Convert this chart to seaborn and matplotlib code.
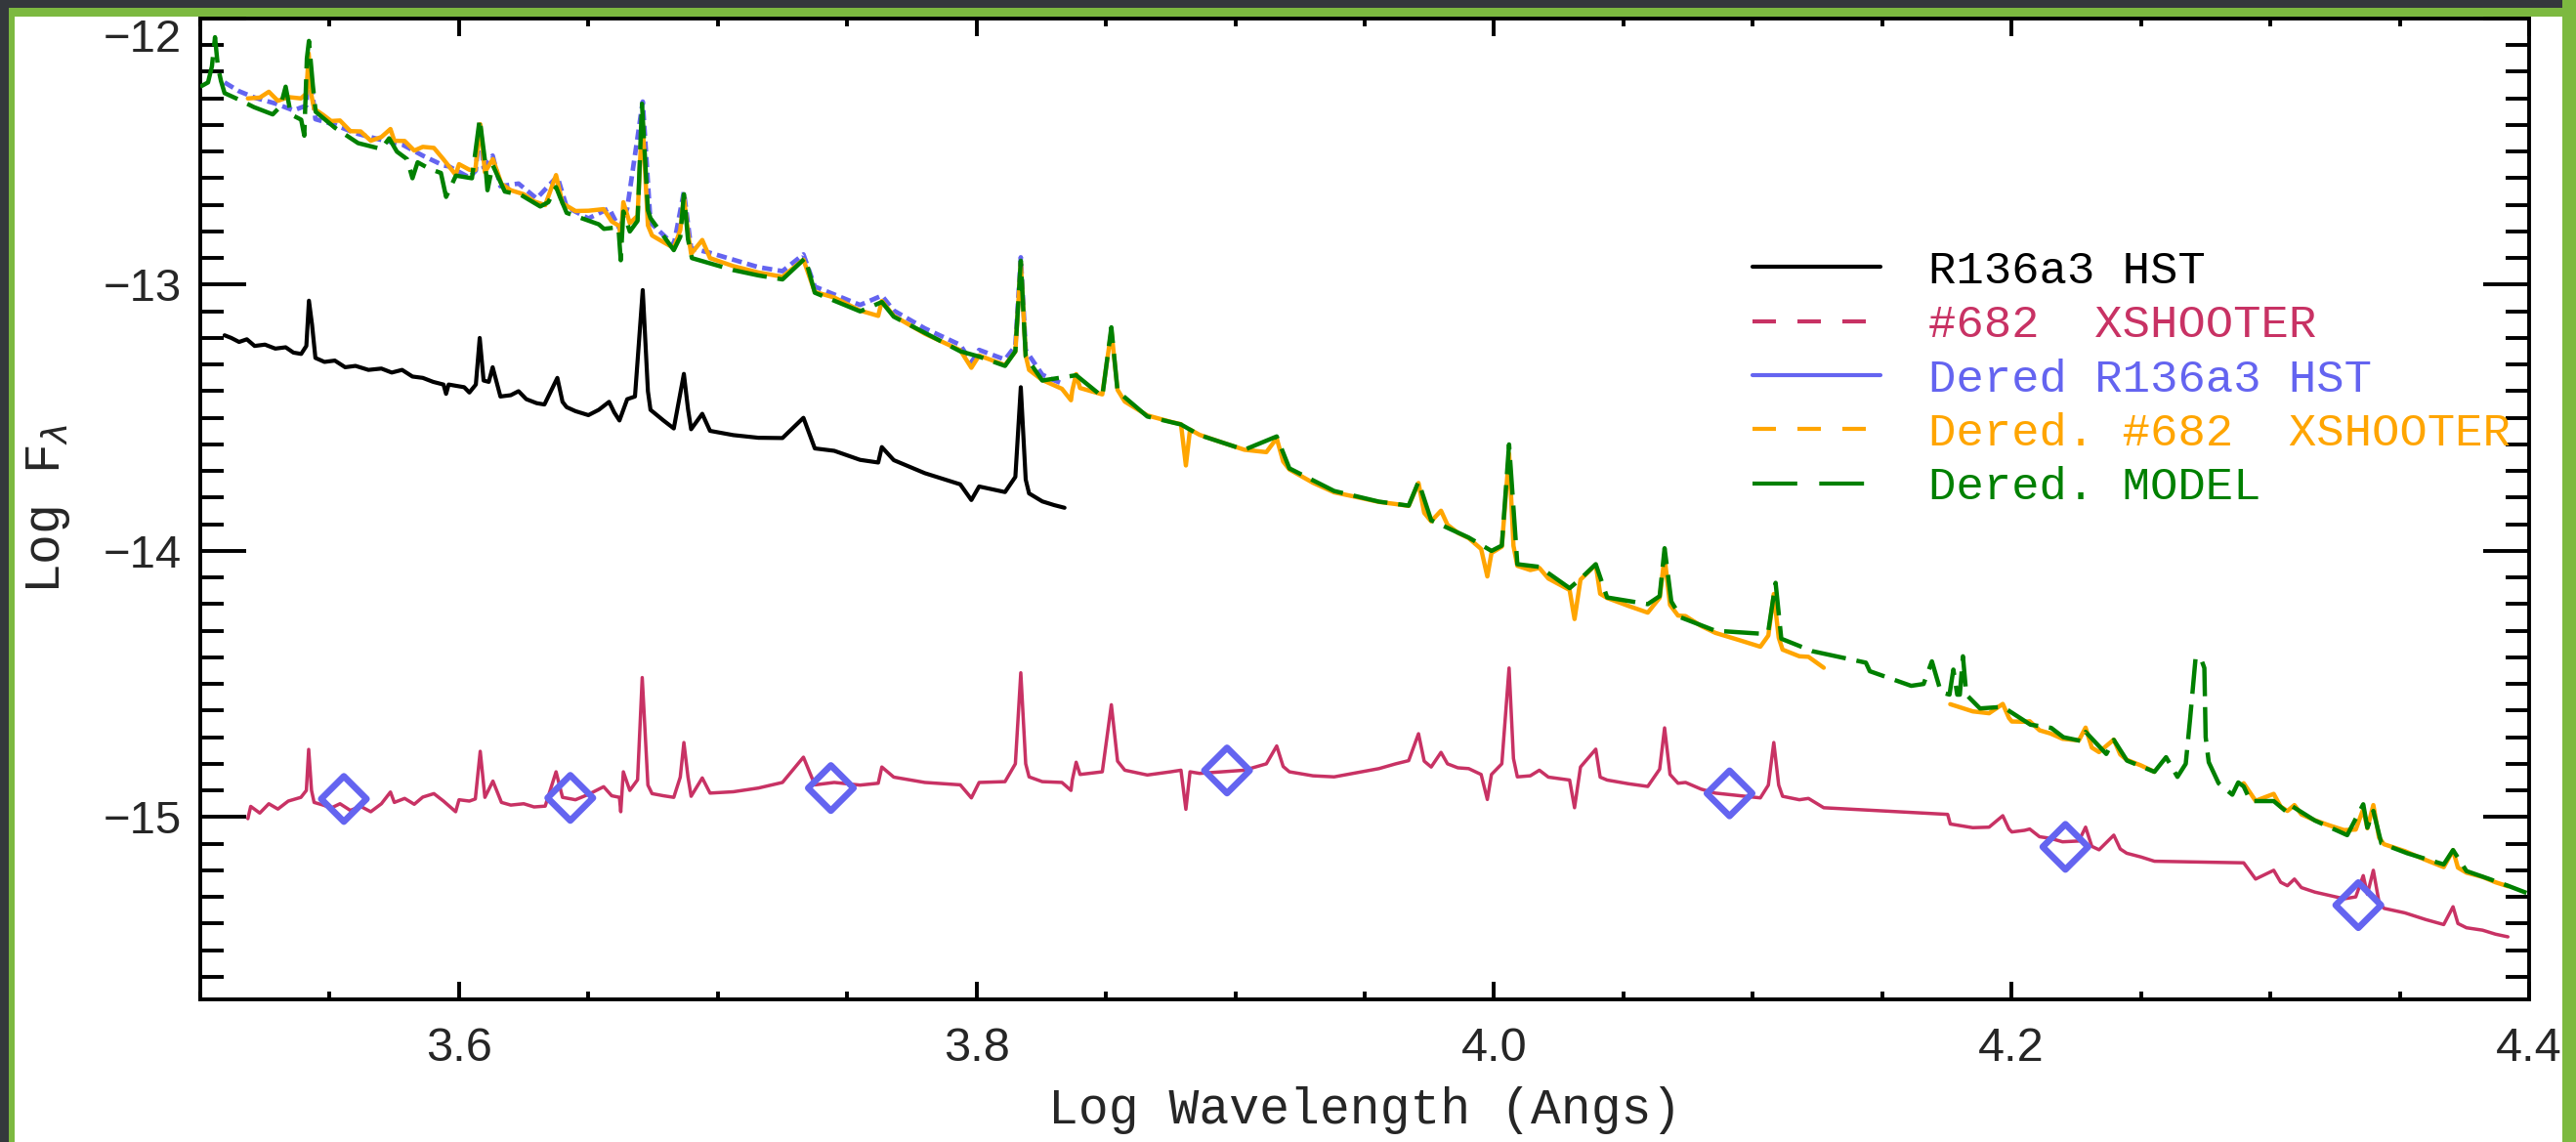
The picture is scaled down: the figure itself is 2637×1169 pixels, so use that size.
import numpy as np
import pandas as pd
import matplotlib
matplotlib.use("Agg")
import matplotlib.pyplot as plt
import seaborn as sns
from matplotlib.lines import Line2D
from matplotlib.patches import Rectangle
from matplotlib.ticker import MultipleLocator
from matplotlib.font_manager import FontProperties

# ---------------- data (log wavelength, log flux) ----------------
xsh_x = [3.5184, 3.5195, 3.5230, 3.5265, 3.5300, 3.5340, 3.5389, 3.5410, 3.5419, 3.5430,
         3.5440, 3.5475, 3.5506, 3.5540, 3.5580, 3.5620, 3.5659, 3.5700, 3.5735, 3.5750,
         3.5790, 3.5827, 3.5860, 3.5903, 3.5940, 3.5987, 3.6000, 3.6040, 3.6063, 3.6082,
         3.6100, 3.6131, 3.6164, 3.6200, 3.6250, 3.6290, 3.6333, 3.6375, 3.6400, 3.6450,
         3.6500, 3.6559, 3.6590, 3.6620, 3.6625, 3.6635, 3.6660, 3.6690, 3.6708, 3.6730,
         3.6746, 3.6790, 3.6830, 3.6855, 3.6869, 3.6885, 3.6897, 3.6940, 3.6970, 3.7060,
         3.7157, 3.7250, 3.7331, 3.7375, 3.7450, 3.7550, 3.7620, 3.7634, 3.7680, 3.7800,
         3.7937, 3.7980, 3.8010, 3.8110, 3.8150, 3.8171, 3.8190, 3.8203, 3.8254, 3.8330,
         3.8365, 3.8370, 3.8385, 3.8400, 3.8486, 3.8521, 3.8545, 3.8573, 3.8660, 3.8750,
         3.8790, 3.8809, 3.8825, 3.8862, 3.8950, 3.9035, 3.9120, 3.9160, 3.9185, 3.9209,
         3.9300, 3.9382, 3.9460, 3.9555, 3.9620, 3.9670, 3.9708, 3.9730, 3.9757, 3.9795,
         3.9820, 3.9860, 3.9902, 3.9950, 3.9974, 3.9990, 4.0030, 4.0058, 4.0075, 4.0090,
         4.0140, 4.0175, 4.0210, 4.0292, 4.0311, 4.0334, 4.0393, 4.0410, 4.0437, 4.0520,
         4.0594, 4.0640, 4.0659, 4.0680, 4.0711, 4.0740, 4.0800, 4.0855, 4.0950, 4.1029,
         4.1060, 4.1081, 4.1100, 4.1115, 4.1180, 4.1215, 4.1274, 4.1753, 4.1763, 4.1850,
         4.1913, 4.1966, 4.1990, 4.2001, 4.2050, 4.2070, 4.2108, 4.2150, 4.2197, 4.2260,
         4.2286, 4.2310, 4.2338, 4.2395, 4.2420, 4.2445, 4.2500, 4.2552, 4.2897, 4.2943,
         4.3013, 4.3040, 4.3066, 4.3093, 4.3120, 4.3172, 4.3230, 4.3285, 4.3330, 4.3359,
         4.3375, 4.3398, 4.3420, 4.3439, 4.3520, 4.3600, 4.3670, 4.3706, 4.3725, 4.3758,
         4.3820, 4.3870, 4.3918]
xsh_y = [-15.006, -14.960, -14.985, -14.950, -14.970, -14.940, -14.926, -14.900, -14.746, -14.900,
         -14.945, -14.955, -14.966, -14.950, -14.975, -14.960, -14.980, -14.950, -14.906, -14.945,
         -14.930, -14.952, -14.925, -14.912, -14.940, -14.980, -14.935, -14.940, -14.932, -14.753,
         -14.926, -14.865, -14.945, -14.955, -14.950, -14.962, -14.959, -14.830, -14.926, -14.935,
         -14.915, -14.886, -14.920, -14.926, -14.980, -14.830, -14.900, -14.860, -14.476, -14.880,
         -14.912, -14.920, -14.926, -14.850, -14.720, -14.850, -14.922, -14.853, -14.910, -14.905,
         -14.891, -14.870, -14.775, -14.879, -14.870, -14.880, -14.873, -14.812, -14.850, -14.870,
         -14.879, -14.928, -14.870, -14.867, -14.800, -14.458, -14.800, -14.849, -14.867, -14.870,
         -14.900, -14.861, -14.794, -14.840, -14.830, -14.578, -14.790, -14.824, -14.842, -14.830,
         -14.824, -14.971, -14.830, -14.836, -14.830, -14.824, -14.800, -14.733, -14.810, -14.830,
         -14.845, -14.849, -14.835, -14.818, -14.800, -14.788, -14.687, -14.790, -14.812, -14.757,
         -14.800, -14.815, -14.818, -14.840, -14.934, -14.840, -14.800, -14.440, -14.780, -14.849,
         -14.845, -14.824, -14.850, -14.861, -14.965, -14.812, -14.745, -14.850, -14.861, -14.875,
         -14.885, -14.820, -14.665, -14.840, -14.873, -14.870, -14.895, -14.910, -14.920, -14.928,
         -14.880, -14.720, -14.880, -14.922, -14.935, -14.930, -14.965, -14.990, -15.026, -15.040,
         -15.038, -14.995, -15.045, -15.056, -15.050, -15.045, -15.074, -15.080, -15.093, -15.090,
         -15.038, -15.110, -15.123, -15.068, -15.120, -15.136, -15.150, -15.166, -15.172, -15.233,
         -15.200, -15.245, -15.258, -15.233, -15.265, -15.282, -15.295, -15.307, -15.300, -15.220,
         -15.290, -15.200, -15.320, -15.343, -15.360, -15.385, -15.404, -15.337, -15.400, -15.416,
         -15.425, -15.440, -15.450]

hst_x = [3.5094, 3.5120, 3.5150, 3.5180, 3.5210, 3.5250, 3.5290, 3.5330, 3.5360, 3.5390,
         3.5410, 3.5420, 3.5432, 3.5445, 3.5480, 3.5520, 3.5560, 3.5600, 3.5650, 3.5700,
         3.5740, 3.5780, 3.5820, 3.5860, 3.5900, 3.5940, 3.5950, 3.5960, 3.6020, 3.6040,
         3.6065, 3.6080, 3.6095, 3.6115, 3.6130, 3.6160, 3.6200, 3.6230, 3.6260, 3.6300,
         3.6330, 3.6380, 3.6400, 3.6416, 3.6450, 3.6500, 3.6540, 3.6580, 3.6600, 3.6620,
         3.6650, 3.6680, 3.6710, 3.6730, 3.6740, 3.6790, 3.6830, 3.6869, 3.6885, 3.6897,
         3.6940, 3.6970, 3.7060, 3.7157, 3.7250, 3.7331, 3.7375, 3.7450, 3.7550, 3.7620,
         3.7634, 3.7680, 3.7800, 3.7937, 3.7980, 3.8010, 3.8110, 3.8150, 3.8171, 3.8190,
         3.8203, 3.8254, 3.8300, 3.8340]
hst_y = [-13.190, -13.200, -13.215, -13.205, -13.230, -13.225, -13.240, -13.235, -13.255, -13.260,
         -13.230, -13.060, -13.150, -13.275, -13.290, -13.285, -13.310, -13.305, -13.320, -13.315,
         -13.330, -13.320, -13.345, -13.350, -13.365, -13.375, -13.410, -13.375, -13.385, -13.405,
         -13.375, -13.200, -13.360, -13.365, -13.310, -13.420, -13.415, -13.400, -13.430, -13.445,
         -13.450, -13.350, -13.440, -13.460, -13.475, -13.490, -13.470, -13.440, -13.480, -13.510,
         -13.430, -13.420, -13.020, -13.400, -13.470, -13.510, -13.540, -13.335, -13.468, -13.543,
         -13.485, -13.549, -13.565, -13.575, -13.576, -13.500, -13.615, -13.624, -13.658, -13.668,
         -13.610, -13.659, -13.708, -13.750, -13.809, -13.758, -13.779, -13.722, -13.385, -13.732,
         -13.784, -13.814, -13.828, -13.838]

dhst_x = [3.5094, 3.5150, 3.5210, 3.5290, 3.5360, 3.5410, 3.5420, 3.5445, 3.5520, 3.5600,
          3.5700, 3.5780, 3.5860, 3.5940, 3.5960, 3.6040, 3.6065, 3.6080, 3.6095, 3.6130,
          3.6160, 3.6230, 3.6300, 3.6380, 3.6416, 3.6500, 3.6580, 3.6620, 3.6650, 3.6710,
          3.6740, 3.6830, 3.6869, 3.6897, 3.6970, 3.7157, 3.7250, 3.7331, 3.7375, 3.7550,
          3.7634, 3.7680, 3.7800, 3.7937, 3.7980, 3.8010, 3.8110, 3.8150, 3.8171, 3.8190,
          3.8254, 3.8300, 3.8340]
dhst_y = [-12.240, -12.273, -12.297, -12.319, -12.345, -12.327, -12.159, -12.378, -12.399, -12.431,
          -12.456, -12.473, -12.515, -12.552, -12.555, -12.597, -12.571, -12.398, -12.560, -12.515,
          -12.630, -12.620, -12.676, -12.593, -12.708, -12.751, -12.713, -12.789, -12.713, -12.312,
          -12.767, -12.850, -12.651, -12.863, -12.880, -12.934, -12.949, -12.886, -13.007, -13.076,
          -13.041, -13.097, -13.164, -13.226, -13.292, -13.245, -13.281, -13.230, -12.897, -13.246,
          -13.338, -13.359, -13.375]

dxsh_x1 = [3.5184, 3.5230, 3.5265, 3.5300, 3.5340, 3.5389, 3.5410, 3.5419, 3.5430, 3.5440,
           3.5475, 3.5506, 3.5540, 3.5580, 3.5620, 3.5659, 3.5700, 3.5735, 3.5750, 3.5790,
           3.5827, 3.5860, 3.5903, 3.5940, 3.5987, 3.6000, 3.6040, 3.6063, 3.6082, 3.6100,
           3.6131, 3.6164, 3.6200, 3.6250, 3.6290, 3.6333, 3.6375, 3.6400, 3.6450, 3.6500,
           3.6559, 3.6590, 3.6620, 3.6625, 3.6635, 3.6660, 3.6690, 3.6708, 3.6730, 3.6746,
           3.6790, 3.6830, 3.6855, 3.6869, 3.6885, 3.6897, 3.6940, 3.6970, 3.7060, 3.7157,
           3.7250, 3.7331, 3.7375, 3.7450, 3.7550, 3.7620, 3.7634, 3.7680, 3.7800, 3.7937,
           3.7980, 3.8010, 3.8110, 3.8150, 3.8171, 3.8190, 3.8203, 3.8254, 3.8330, 3.8365,
           3.8370, 3.8385, 3.8400, 3.8486, 3.8521, 3.8545, 3.8573, 3.8660, 3.8750, 3.8790,
           3.8809, 3.8825, 3.8862, 3.8950, 3.9035, 3.9120, 3.9160, 3.9185, 3.9209, 3.9300,
           3.9382, 3.9460, 3.9555, 3.9620, 3.9670, 3.9708, 3.9730, 3.9757, 3.9795, 3.9820,
           3.9860, 3.9902, 3.9950, 3.9974, 3.9990, 4.0030, 4.0058, 4.0075, 4.0090, 4.0140,
           4.0175, 4.0210, 4.0292, 4.0311, 4.0334, 4.0393, 4.0410, 4.0437, 4.0520, 4.0594,
           4.0640, 4.0659, 4.0680, 4.0711, 4.0740, 4.0800, 4.0855, 4.0950, 4.1029, 4.1060,
           4.1081, 4.1100, 4.1115, 4.1180, 4.1215, 4.1274]
dxsh_y1 = [-12.300, -12.297, -12.275, -12.309, -12.295, -12.300, -12.282, -12.131, -12.290, -12.339,
           -12.362, -12.385, -12.383, -12.423, -12.424, -12.459, -12.445, -12.415, -12.459, -12.460,
           -12.496, -12.482, -12.486, -12.529, -12.587, -12.547, -12.568, -12.569, -12.397, -12.577,
           -12.528, -12.621, -12.645, -12.660, -12.687, -12.701, -12.588, -12.694, -12.723, -12.722,
           -12.716, -12.762, -12.780, -12.836, -12.690, -12.769, -12.741, -12.364, -12.777, -12.815,
           -12.840, -12.862, -12.795, -12.671, -12.807, -12.884, -12.832, -12.900, -12.930, -12.954,
           -12.970, -12.906, -13.027, -13.048, -13.097, -13.117, -13.061, -13.117, -13.184, -13.246,
           -13.312, -13.266, -13.302, -13.251, -12.917, -13.266, -13.320, -13.358, -13.391, -13.434,
           -13.397, -13.336, -13.388, -13.412, -13.173, -13.395, -13.439, -13.491, -13.515, -13.524,
           -13.679, -13.544, -13.564, -13.593, -13.620, -13.629, -13.577, -13.664, -13.694, -13.744,
           -13.780, -13.796, -13.816, -13.824, -13.831, -13.745, -13.857, -13.889, -13.849, -13.902,
           -13.932, -13.952, -13.993, -14.096, -14.008, -13.984, -13.635, -13.981, -14.056, -14.072,
           -14.064, -14.104, -14.147, -14.256, -14.108, -14.052, -14.161, -14.177, -14.207, -14.232,
           -14.176, -14.024, -14.203, -14.243, -14.245, -14.282, -14.308, -14.336, -14.360, -14.318,
           -14.162, -14.326, -14.371, -14.396, -14.398, -14.439]
dxsh_x2 = [4.1763, 4.1850, 4.1913, 4.1966, 4.1990, 4.2001, 4.2050, 4.2070, 4.2108, 4.2150,
           4.2197, 4.2260, 4.2286, 4.2310, 4.2338, 4.2395, 4.2420, 4.2445, 4.2500, 4.2552]
dxsh_y2 = [-14.576, -14.603, -14.610, -14.575, -14.628, -14.641, -14.642, -14.640, -14.674, -14.686,
           -14.706, -14.712, -14.664, -14.739, -14.756, -14.709, -14.765, -14.785, -14.806, -14.830]
dxsh_x3 = [4.2897, 4.2943, 4.3013, 4.3040, 4.3066, 4.3093, 4.3120, 4.3172, 4.3230, 4.3285,
           4.3330, 4.3359, 4.3375, 4.3398, 4.3420, 4.3439, 4.3520, 4.3600, 4.3670, 4.3706,
           4.3725, 4.3758, 4.3820, 4.3870, 4.3918]
dxsh_y3 = [-14.873, -14.939, -14.913, -14.961, -14.977, -14.955, -14.990, -15.012, -15.032, -15.049,
           -15.047, -14.970, -15.042, -14.955, -15.077, -15.102, -15.128, -15.161, -15.188, -15.125,
           -15.190, -15.209, -15.225, -15.245, -15.260]

model_x = [3.5000, 3.5030, 3.5045, 3.5057, 3.5068, 3.5080, 3.5094, 3.5150, 3.5208, 3.5280,
           3.5310, 3.5330, 3.5350, 3.5390, 3.5402, 3.5412, 3.5420, 3.5435, 3.5446, 3.5520,
           3.5610, 3.5700, 3.5730, 3.5760, 3.5799, 3.5820, 3.5840, 3.5887, 3.5930, 3.5950,
           3.5988, 3.6050, 3.6080, 3.6101, 3.6110, 3.6130, 3.6177, 3.6240, 3.6314, 3.6345,
           3.6375, 3.6390, 3.6416, 3.6540, 3.6560, 3.6616, 3.6625, 3.6635, 3.6660, 3.6690,
           3.6707, 3.6730, 3.6740, 3.6830, 3.6855, 3.6869, 3.6885, 3.6900, 3.7060, 3.7157,
           3.7250, 3.7338, 3.7375, 3.7550, 3.7634, 3.7680, 3.7937, 3.8010, 3.8110, 3.8150,
           3.8171, 3.8190, 3.8254, 3.8385, 3.8486, 3.8521, 3.8545, 3.8660, 3.8790, 3.8862,
           3.9035, 3.9160, 3.9209, 3.9382, 3.9555, 3.9670, 3.9708, 3.9757, 3.9902, 3.9990,
           4.0030, 4.0058, 4.0090, 4.0175, 4.0292, 4.0334, 4.0393, 4.0437, 4.0594, 4.0640,
           4.0659, 4.0685, 4.0722, 4.0855, 4.1029, 4.1060, 4.1088, 4.1110, 4.1231, 4.1437,
           4.1452, 4.1612, 4.1660, 4.1692, 4.1727, 4.1760, 4.1775, 4.1790, 4.1800, 4.1812,
           4.1825, 4.1878, 4.1966, 4.2073, 4.2153, 4.2200, 4.2268, 4.2286, 4.2366, 4.2395,
           4.2446, 4.2552, 4.2597, 4.2641, 4.2673, 4.2690, 4.2711, 4.2730, 4.2745, 4.2750,
           4.2762, 4.2800, 4.2853, 4.2876, 4.2897, 4.2923, 4.3013, 4.3066, 4.3085, 4.3172,
           4.3297, 4.3359, 4.3375, 4.3398, 4.3429, 4.3529, 4.3670, 4.3706, 4.3758, 4.3847,
           4.3918, 4.3990]
model_y = [-12.256, -12.240, -12.180, -12.070, -12.180, -12.234, -12.280, -12.305, -12.333, -12.360,
           -12.330, -12.256, -12.360, -12.380, -12.440, -12.150, -12.084, -12.250, -12.350, -12.410,
           -12.468, -12.490, -12.450, -12.500, -12.528, -12.600, -12.540, -12.565, -12.580, -12.670,
           -12.590, -12.600, -12.377, -12.540, -12.645, -12.550, -12.650, -12.663, -12.706, -12.690,
           -12.633, -12.670, -12.730, -12.773, -12.790, -12.784, -12.908, -12.725, -12.800, -12.760,
           -12.320, -12.720, -12.750, -12.870, -12.820, -12.660, -12.830, -12.900, -12.945, -12.965,
           -12.980, -12.900, -13.030, -13.100, -13.065, -13.120, -13.250, -13.270, -13.305, -13.250,
           -12.910, -13.270, -13.360, -13.340, -13.420, -13.160, -13.400, -13.495, -13.525, -13.565,
           -13.620, -13.570, -13.690, -13.775, -13.815, -13.830, -13.740, -13.885, -13.950, -14.000,
           -13.980, -13.600, -14.050, -14.060, -14.140, -14.105, -14.050, -14.175, -14.200, -14.170,
           -13.990, -14.190, -14.250, -14.300, -14.311, -14.300, -14.120, -14.330, -14.377, -14.420,
           -14.452, -14.507, -14.500, -14.415, -14.531, -14.540, -14.446, -14.540, -14.540, -14.396,
           -14.540, -14.592, -14.586, -14.653, -14.665, -14.700, -14.714, -14.680, -14.763, -14.710,
           -14.788, -14.830, -14.775, -14.849, -14.800, -14.630, -14.403, -14.400, -14.440, -14.700,
           -14.794, -14.873, -14.916, -14.870, -14.885, -14.940, -14.940, -14.983, -14.960, -15.013,
           -15.068, -14.952, -15.040, -14.977, -15.099, -15.136, -15.178, -15.124, -15.203, -15.233,
           -15.258, -15.285]

phot_x = [3.5555, 3.6430, 3.7437, 3.8968, 4.0910, 4.2208, 4.3340]
phot_y = [-14.932, -14.928, -14.891, -14.825, -14.911, -15.112, -15.331]

labels = ["R136a3 HST", "#682  XSHOOTER", "Dered R136a3 HST",
          "Dered. #682  XSHOOTER", "Dered. MODEL"]
xtick_vals = [3.6, 3.8, 4.0, 4.2, 4.4]
xtick_labels = ["3.6", "3.8", "4.0", "4.2", "4.4"]
ytick_vals = [-15, -14, -13, -12]
ytick_labels = ["\u221215", "\u221214", "\u221213", "\u221212"]

# ---------------- styling ----------------
C_BLACK = "#000000"
C_CRIMSON = "#C83264"
C_BLUE = "#6464F0"
C_ORANGE = "#FFA500"
C_GREEN = "#008000"

sns.set_style("ticks")
plt.rcParams["font.family"] = ["Liberation Sans", "DejaVu Sans"]

W, H = 2637, 1169
fig = plt.figure(figsize=(W / 100, H / 100), dpi=100, facecolor="#34383c")
# slide frame decoration
fig.add_artist(Rectangle((15 / W, 0), (2623 - 15) / W, 1 - 17 / H, transform=fig.transFigure,
                         facecolor="white", edgecolor="none", zorder=-10))
fig.add_artist(Rectangle((15 / W, 1 - 17 / H), (2623 - 15) / W, 9 / H, transform=fig.transFigure,
                         facecolor="#7cb940", edgecolor="none", zorder=-9))
fig.add_artist(Rectangle((9 / W, 0), 6 / W, 1 - 8 / H, transform=fig.transFigure,
                         facecolor="#7cb940", edgecolor="none", zorder=-9))
fig.add_artist(Rectangle((2623 / W, 0), 14 / W, 1, transform=fig.transFigure,
                         facecolor="#7cb940", edgecolor="none", zorder=-9))

ax = fig.add_axes([205 / W, 1 - 1023 / H, (2589 - 205) / W, (1023 - 19) / H])
ax.set_facecolor("white")


def draw(xs, ys, color, lw, ls="-", z=2):
    df = pd.DataFrame({"x": xs, "y": ys})
    sns.lineplot(data=df, x="x", y="y", ax=ax, color=color, lw=lw, linestyle=ls,
                 sort=False, estimator=None, zorder=z)


draw(hst_x, hst_y, C_BLACK, 3.0, z=2)
draw(xsh_x, xsh_y, C_CRIMSON, 2.5, z=2)
draw(dhst_x, dhst_y, C_BLUE, 3.4, ls=(0, (2.2, 1.2)), z=3)
draw(dxsh_x1, dxsh_y1, C_ORANGE, 3.2, z=4)
draw(dxsh_x2, dxsh_y2, C_ORANGE, 3.2, z=4)
draw(dxsh_x3, dxsh_y3, C_ORANGE, 3.2, z=4)
draw(model_x, model_y, C_GREEN, 3.2, ls=(0, (8, 2.5)), z=5)

sns.scatterplot(x=phot_x, y=phot_y, ax=ax, marker="D", s=560, facecolors="none",
                edgecolor=C_BLUE, linewidth=4.8, zorder=6)

ax.set_xlim(3.5, 4.4)
ax.set_ylim(-15.685, -12.0)
ax.set_xticks(xtick_vals)
ax.set_xticklabels(xtick_labels)
ax.set_yticks(ytick_vals)
ax.set_yticklabels(ytick_labels)
ax.xaxis.set_minor_locator(MultipleLocator(0.05))
ax.yaxis.set_minor_locator(MultipleLocator(0.1))

for s in ax.spines.values():
    s.set_linewidth(2.8)
    s.set_color("black")
ax.tick_params(axis="both", which="both", direction="in", top=True, right=True,
               width=2.8, color="black")
ax.tick_params(axis="x", which="major", length=13, pad=20, labelsize=35)
ax.tick_params(axis="x", which="minor", length=6)
ax.tick_params(axis="y", which="major", length=34, pad=14, labelsize=34)
ax.tick_params(axis="y", which="minor", length=17)
ax.get_yticklabels()[-1].set_verticalalignment("top")

mono = FontProperties(family="Liberation Mono", size=37)
ax.set_xlabel("Log Wavelength (Angs)", fontproperties=mono, labelpad=12)
ax.set_ylabel("Log F$_\\lambda$", fontproperties=mono)
ax.yaxis.set_label_coords(-0.055, 0.5)

handles = [
    Line2D([], [], color=C_BLACK, lw=3),
    Line2D([], [], color=C_CRIMSON, lw=3, linestyle=(0, (5.76, 5.28))),
    Line2D([], [], color=C_BLUE, lw=3),
    Line2D([], [], color=C_ORANGE, lw=3, linestyle=(0, (5.76, 5.28))),
    Line2D([], [], color=C_GREEN, lw=3, linestyle=(0, (11.0, 5.4))),
]
leg = ax.legend(handles, labels, loc="upper left", bbox_to_anchor=(0.6665, 0.764),
                frameon=False, prop=FontProperties(family="Liberation Mono", size=34),
                handlelength=2.78, handletextpad=1.04, labelspacing=0.24,
                borderpad=0, borderaxespad=0,
                labelcolor=[C_BLACK, C_CRIMSON, C_BLUE, C_ORANGE, C_GREEN])

fig.savefig("out.png", dpi=100, facecolor=fig.get_facecolor())
